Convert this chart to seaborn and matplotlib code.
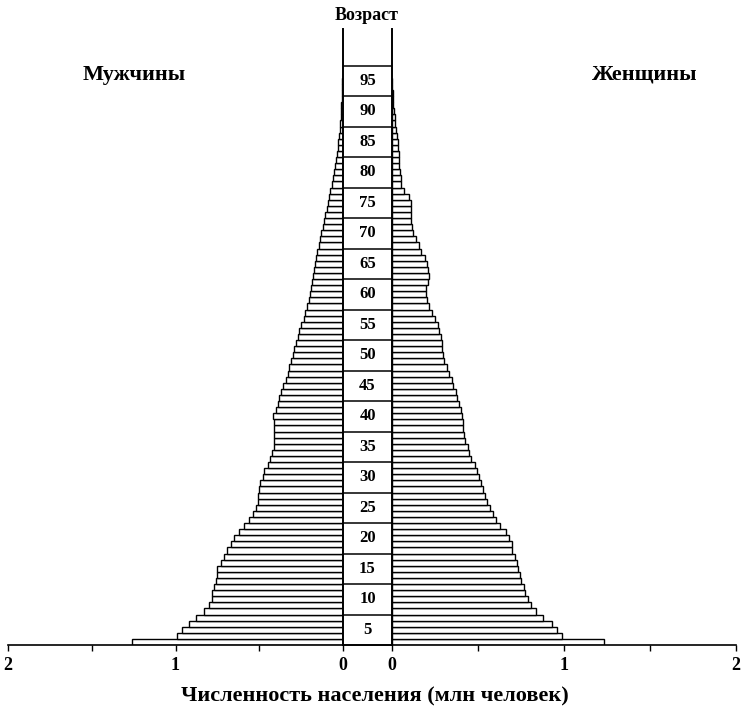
import pandas as pd
import seaborn as sns
import matplotlib.pyplot as plt

# one bar per year of age, population in millions
ages = list(range(93))

men = [1.26, 0.99, 0.96, 0.92, 0.875, 0.83, 0.80, 0.78, 0.78, 0.77,
       0.76, 0.755, 0.75, 0.73, 0.71, 0.69, 0.67, 0.65, 0.62, 0.59,
       0.56, 0.54, 0.52, 0.51, 0.505, 0.50, 0.495, 0.48, 0.47, 0.45,
       0.435, 0.425, 0.41, 0.41, 0.41, 0.41, 0.41, 0.415, 0.40, 0.39,
       0.38, 0.37, 0.36, 0.34, 0.33, 0.32, 0.31, 0.30, 0.29, 0.28,
       0.27, 0.26, 0.25, 0.235, 0.225, 0.215, 0.205, 0.20, 0.19, 0.185,
       0.18, 0.175, 0.17, 0.16, 0.155, 0.146, 0.138, 0.13, 0.122, 0.113,
       0.105, 0.097, 0.09, 0.083, 0.077, 0.067, 0.057, 0.051, 0.046, 0.04,
       0.034, 0.03, 0.027, 0.024, 0.02, 0.018, 0.014, 0.012, 0.01, 0.008,
       0.006, 0.004, 0.003]

women = [1.23, 0.99, 0.96, 0.93, 0.88, 0.835, 0.81, 0.79, 0.775, 0.765,
         0.75, 0.745, 0.735, 0.725, 0.715, 0.70, 0.695, 0.68, 0.665, 0.63,
         0.605, 0.585, 0.57, 0.555, 0.54, 0.53, 0.52, 0.505, 0.495, 0.48,
         0.46, 0.45, 0.44, 0.425, 0.42, 0.415, 0.41, 0.405, 0.40, 0.39,
         0.38, 0.37, 0.357, 0.347, 0.333, 0.318, 0.304, 0.298, 0.292, 0.288,
         0.282, 0.275, 0.265, 0.25, 0.23, 0.215, 0.206, 0.20, 0.197, 0.21,
         0.215, 0.21, 0.206, 0.19, 0.17, 0.158, 0.142, 0.123, 0.117, 0.113,
         0.113, 0.113, 0.109, 0.098, 0.07, 0.054, 0.051, 0.045, 0.041, 0.041,
         0.039, 0.035, 0.035, 0.031, 0.025, 0.019, 0.016, 0.012, 0.006, 0.004,
         0.003, 0.002, 0.001]

age_groups = ['5', '10', '15', '20', '25', '30', '35', '40', '45', '50',
              '55', '60', '65', '70', '75', '80', '85', '90', '95']

x_ticks = [0, 0.5, 1, 1.5, 2]
x_tick_labels = ['0', '', '1', '', '2']


def main():
    sns.set_style('ticks')
    plt.rcParams['font.family'] = ['Liberation Serif', 'DejaVu Serif']
    plt.rcParams['font.weight'] = 'bold'
    #pure black ink like the printed original
    plt.rcParams['text.color'] = 'black'
    plt.rcParams['axes.edgecolor'] = 'black'
    plt.rcParams['xtick.color'] = 'black'
    plt.rcParams['xtick.labelcolor'] = 'black'

    pop = pd.DataFrame({'age': ages, 'men': men, 'women': women})

    fig = plt.figure(figsize=(7.44, 7.19), dpi=100)

    #axes placed in pixel units of the 744x719 picture
    def place(x0, x1, y_top, y_bottom):
        return [x0 / 744, 1 - y_bottom / 719, (x1 - x0) / 744, (y_bottom - y_top) / 719]

    ax_m = fig.add_axes(place(8, 343, 29, 645))
    ax_f = fig.add_axes(place(392, 736, 29, 645))
    ax_c = fig.add_axes(place(343, 392, 29, 645))

    #men on the left, women on the right
    for ax, col in [(ax_m, 'men'), (ax_f, 'women')]:
        sns.barplot(data=pop, x=col, y='age', orient='h', native_scale=True,
                    width=1, color='white', edgecolor='black', linewidth=1.0,
                    errorbar=None, ax=ax)
        ax.set_ylim(-0.5, 100.5)
        ax.set_yticks([])
        ax.set_xlabel('')
        ax.set_ylabel('')
        ax.set_xticks(x_ticks)
        ax.set_xticklabels(x_tick_labels)
        ax.tick_params(axis='x', direction='out', length=4, width=1, pad=5,
                       labelsize=13, bottom=True, colors='black')
        for side in ['top', 'left', 'right']:
            ax.spines[side].set_visible(False)
        ax.spines['bottom'].set_linewidth(1.2)
        ax.patch.set_alpha(0)

    ax_m.set_xlim(2, 0)
    ax_f.set_xlim(0, 2)

    #central age column
    ax_c.set_xlim(0, 1)
    ax_c.set_ylim(-0.5, 100.5)
    ax_c.set_xticks([])
    ax_c.set_yticks([])
    ax_c.spines['top'].set_visible(False)
    for side in ['left', 'right', 'bottom']:
        ax_c.spines[side].set_linewidth(1.4)
    for i, lab in enumerate(age_groups):
        ax_c.axhline(4.5 + 5 * i, color='black', lw=1.1)
        ax_c.text(0.5, 2 + 5 * i, lab, ha='center', va='center',
                  fontsize=12, fontweight='bold', color='black')

    fig.text(0.493, 0.978, 'Возраст', ha='center', va='center',
             fontsize=13, fontweight='bold')
    fig.text(0.181, 0.896, 'Мужчины', ha='center', va='center',
             fontsize=16, fontweight='bold')
    fig.text(0.867, 0.896, 'Женщины', ha='center', va='center',
             fontsize=16, fontweight='bold')
    fig.text(0.504, 0.031, 'Численность населения (млн человек)',
             ha='center', va='center', fontsize=16, fontweight='bold')

    plt.savefig('out.png', dpi=100)
    plt.close()


if __name__ == '__main__':
    main()
